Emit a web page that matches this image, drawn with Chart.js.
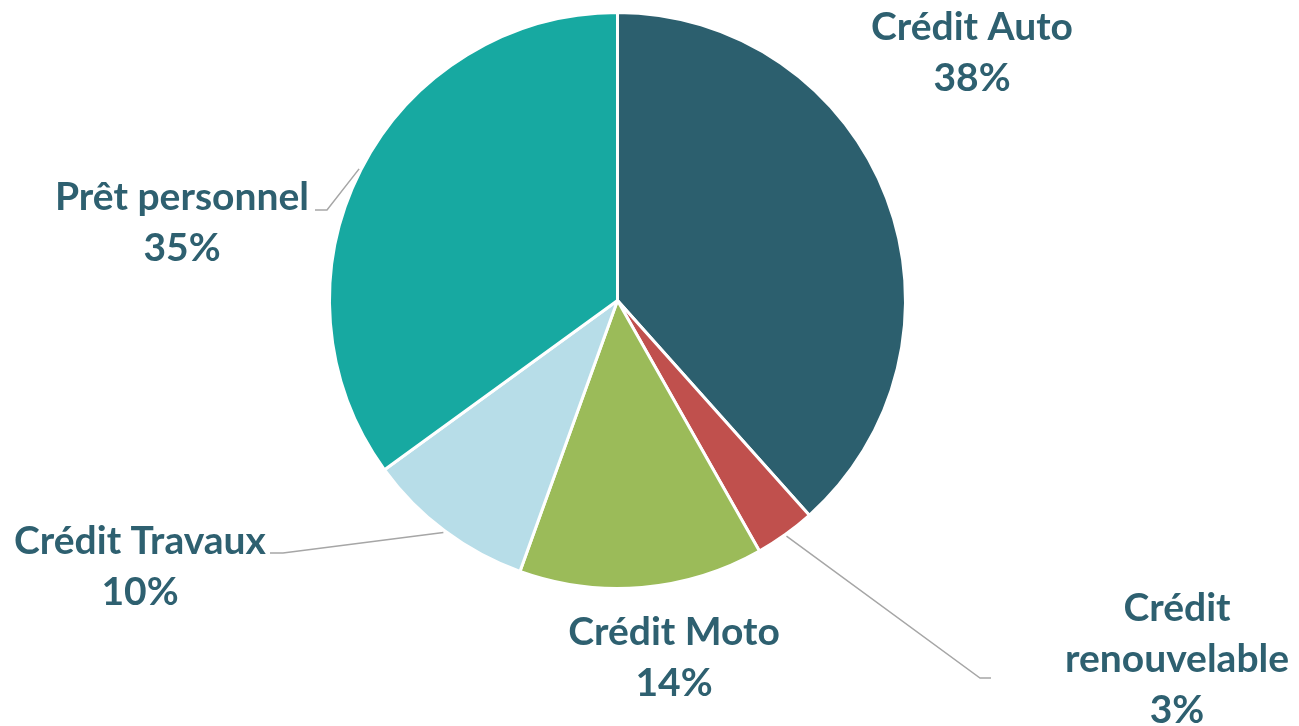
<!DOCTYPE html>
<html>
<head>
<meta charset="utf-8">
<script src="https://cdn.jsdelivr.net/npm/chart.js@4.4.1/dist/chart.umd.min.js"></script>
<style>
  html, body { margin: 0; padding: 0; background: #fff; }
  #wrap { width: 1299px; height: 726px; }
</style>
</head>
<body>
<div id="wrap"><canvas id="chartCredits"></canvas></div>
<script>
const categories = ['Crédit Auto', 'Crédit renouvelable', 'Crédit Moto', 'Crédit Travaux', 'Prêt personnel'];
const shares = [38.4, 3.4, 13.7, 9.5, 35.0];
const sliceColors = ['#2C5F6E', '#C0504D', '#9BBB59', '#B7DDE8', '#17A9A1'];

// label blocks: centre x, first line y, text lines, optional leader elbow/end
const LABEL_FONT = 'bold 39px Lato, "Open Sans", sans-serif';
const LINE_GAP = 51;
const labelLayout = [
  { x: 972, y: 27, lines: ['Crédit Auto'] },
  { x: 1177, y: 608, lines: ['Crédit', 'renouvelable'], elbow: [980, 678], end: [991, 678] },
  { x: 674, y: 632, lines: ['Crédit Moto'] },
  { x: 140, y: 541, lines: ['Crédit Travaux'], elbow: [283, 553], end: [270, 553] },
  { x: 182, y: 197, lines: ['Prêt personnel'], elbow: [327, 210], end: [315, 210] }
];

const pieLabels = {
  id: 'pieLabels',
  afterDraw(chart) {
    const ctx = chart.ctx;
    const arcs = chart.getDatasetMeta(0).data;
    ctx.save();
    arcs.forEach((arc, i) => {
      const l = labelLayout[i];
      if (l.elbow) {
        const mid = (arc.startAngle + arc.endAngle) / 2;
        const sx = arc.x + Math.cos(mid) * (arc.outerRadius + 2);
        const sy = arc.y + Math.sin(mid) * (arc.outerRadius + 2);
        ctx.strokeStyle = '#A6A6A6';
        ctx.lineWidth = 1.5;
        ctx.beginPath();
        ctx.moveTo(sx, sy);
        ctx.lineTo(l.elbow[0], l.elbow[1]);
        ctx.lineTo(l.end[0], l.end[1]);
        ctx.stroke();
      }
      ctx.font = LABEL_FONT;
      ctx.fillStyle = '#2E6070';
      ctx.textAlign = 'center';
      ctx.textBaseline = 'middle';
      const lines = [...l.lines, Math.round(shares[i]) + '%'];
      lines.forEach((t, k) => ctx.fillText(t, l.x, l.y + k * LINE_GAP));
    });
    ctx.restore();
  }
};

new Chart(document.getElementById('chartCredits'), {
  type: 'pie',
  data: {
    labels: categories,
    datasets: [{
      data: shares,
      backgroundColor: sliceColors,
      borderColor: '#FFFFFF',
      borderWidth: 3
    }]
  },
  options: {
    responsive: true,
    maintainAspectRatio: false,
    animation: false,
    layout: { padding: { top: 11, bottom: 136, left: 328, right: 392 } },
    plugins: {
      legend: { display: false },
      tooltip: { enabled: false }
    }
  },
  plugins: [pieLabels]
});
</script>
</body>
</html>
